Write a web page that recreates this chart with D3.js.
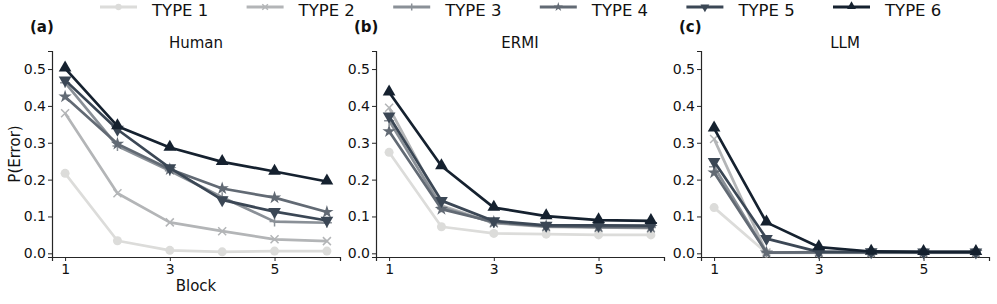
<!DOCTYPE html>
<html>
<head>
<meta charset="utf-8">
<script src="https://cdn.jsdelivr.net/npm/d3@7"></script>
<style>
  body { margin: 0; background: #fff; }
  text { font-family: "DejaVu Sans", sans-serif; fill: #111; }
</style>
</head>
<body>
<svg id="chart" width="997" height="304"></svg>
<script>
// Data
var blocks = [1, 2, 3, 4, 5, 6];
var typeNames = ['TYPE 1', 'TYPE 2', 'TYPE 3', 'TYPE 4', 'TYPE 5', 'TYPE 6'];
var typeColors = ['#dcdcda', '#b3b5b7', '#8a9097', '#626a74', '#3b4755', '#15212f'];
var typeMarkers = ['circle', 'cross', 'plus', 'star', 'triDown', 'triUp'];

var human = [
  [0.217, 0.034, 0.008, 0.004, 0.006, 0.006],
  [0.380, 0.163, 0.084, 0.060, 0.038, 0.033],
  [0.463, 0.291, 0.224, 0.152, 0.086, 0.083],
  [0.425, 0.297, 0.228, 0.176, 0.151, 0.112],
  [0.470, 0.336, 0.232, 0.145, 0.113, 0.089],
  [0.502, 0.345, 0.287, 0.248, 0.222, 0.195]
];
var ermi = [
  [0.274, 0.072, 0.054, 0.052, 0.050, 0.050],
  [0.395, 0.130, 0.082, 0.072, 0.070, 0.068],
  [0.360, 0.125, 0.083, 0.073, 0.071, 0.070],
  [0.331, 0.120, 0.085, 0.074, 0.072, 0.071],
  [0.372, 0.143, 0.088, 0.076, 0.076, 0.075],
  [0.437, 0.237, 0.124, 0.101, 0.090, 0.088]
];
var llm = [
  [0.124, 0.001, 0.001, 0.001, 0.001, 0.001],
  [0.310, 0.002, 0.002, 0.002, 0.002, 0.002],
  [0.235, 0.002, 0.002, 0.002, 0.002, 0.002],
  [0.219, 0.002, 0.003, 0.003, 0.003, 0.003],
  [0.249, 0.040, 0.004, 0.004, 0.003, 0.003],
  [0.339, 0.084, 0.017, 0.005, 0.004, 0.004]
];
var panelTitles = ['Human', 'ERMI', 'LLM'];
var panelLetters = ['(a)', '(b)', '(c)'];
var panelData = [human, ermi, llm];
var yTicks = [0, 0.1, 0.2, 0.3, 0.4, 0.5];
var xTicks = [1, 3, 5];

var svg = d3.select('#chart');
var panelLeft = [52, 376, 701];
var panelWidth = 288;
var plotTop = 51, plotBottom = 257;

var yScale = d3.scaleLinear().domain([-0.01, 0.549]).range([plotBottom, plotTop]);

// marker drawing
function addMarker(g, kind, color, cx, cy, s) {
  s = s || 1;
  if (kind === 'circle') {
    g.append('circle').attr('cx', cx).attr('cy', cy).attr('r', 4.5 * s).attr('fill', color);
  } else if (kind === 'cross') {
    var r = 4 * s;
    g.append('path')
      .attr('d', 'M' + (cx - r) + ',' + (cy - r) + 'L' + (cx + r) + ',' + (cy + r) +
                 'M' + (cx - r) + ',' + (cy + r) + 'L' + (cx + r) + ',' + (cy - r))
      .attr('stroke', color).attr('stroke-width', 1.5).attr('fill', 'none');
  } else if (kind === 'plus') {
    var p = 5 * s;
    g.append('path')
      .attr('d', 'M' + (cx - p) + ',' + cy + 'L' + (cx + p) + ',' + cy +
                 'M' + cx + ',' + (cy - p) + 'L' + cx + ',' + (cy + p))
      .attr('stroke', color).attr('stroke-width', 1.5).attr('fill', 'none');
  } else if (kind === 'star') {
    g.append('path')
      .attr('d', d3.symbol(d3.symbolStar, 55 * s * s)())
      .attr('transform', 'translate(' + cx + ',' + cy + ')')
      .attr('fill', color);
  } else if (kind === 'triDown') {
    g.append('path')
      .attr('d', d3.symbol(d3.symbolTriangle, 70 * s * s)())
      .attr('transform', 'translate(' + cx + ',' + cy + ') rotate(180)')
      .attr('fill', color);
  } else if (kind === 'triUp') {
    g.append('path')
      .attr('d', d3.symbol(d3.symbolTriangle, 70 * s * s)())
      .attr('transform', 'translate(' + cx + ',' + (cy - 0.5) + ')')
      .attr('fill', color);
  }
}

panelData.forEach(function (data, p) {
  var x0 = panelLeft[p];
  var xScale = d3.scaleLinear().domain([0.75, 6.25]).range([x0, x0 + panelWidth]);

  var plot = svg.append('g');

  // axes
  var yAxis = d3.axisLeft(yScale).tickValues(yTicks).tickFormat(d3.format('.1f')).tickSizeOuter(0).tickSize(4);
  var xAxis = d3.axisBottom(xScale).tickValues(xTicks).tickFormat(d3.format('d')).tickSizeOuter(0).tickSize(4);

  var ya = plot.append('g').attr('transform', 'translate(' + x0 + ',0)').call(yAxis);
  var xa = plot.append('g').attr('transform', 'translate(0,' + plotBottom + ')').call(xAxis);
  [ya, xa].forEach(function (a) {
    a.attr('font-size', 14).attr('font-family', '"DejaVu Sans", sans-serif');
    a.select('.domain').attr('stroke', '#262626').attr('stroke-width', 1.2);
    a.selectAll('.tick line').attr('stroke', '#262626').attr('stroke-width', 1);
    a.selectAll('.tick text').attr('fill', '#111');
  });
  ya.selectAll('.tick text').attr('x', -6);
  xa.selectAll('.tick text').attr('y', 7);

  // title and letter
  svg.append('text')
    .attr('x', x0 + panelWidth / 2).attr('y', 48)
    .attr('text-anchor', 'middle').attr('font-size', 15)
    .text(panelTitles[p]);
  svg.append('text')
    .attr('x', x0 - 22).attr('y', 32)
    .attr('font-size', 15).attr('font-weight', 'bold')
    .text(panelLetters[p]);

  var line = d3.line()
    .x(function (d, i) { return xScale(blocks[i]); })
    .y(function (d) { return yScale(d); });

  data.forEach(function (series, t) {
    var g = plot.append('g');
    g.append('path')
      .datum(series)
      .attr('d', line)
      .attr('fill', 'none')
      .attr('stroke', typeColors[t])
      .attr('stroke-width', 2.7)
      .attr('stroke-linejoin', 'round');
    series.forEach(function (v, i) {
      addMarker(g, typeMarkers[t], typeColors[t], xScale(blocks[i]), yScale(v));
    });
  });

  if (p === 0) {
    svg.append('text')
      .attr('x', 196).attr('y', 291)
      .attr('text-anchor', 'middle').attr('font-size', 15)
      .text('Block');
    svg.append('text')
      .attr('transform', 'translate(20,' + ((plotTop + plotBottom) / 2) + ') rotate(-90)')
      .attr('text-anchor', 'middle').attr('font-size', 15)
      .text('P(Error)');
  }
});

// Legend
var legend = svg.append('g');
typeNames.forEach(function (name, t) {
  var lx = 100 + t * 146.6;
  legend.append('line')
    .attr('x1', lx).attr('x2', lx + 37)
    .attr('y1', 7).attr('y2', 7)
    .attr('stroke', typeColors[t]).attr('stroke-width', 3);
  addMarker(legend, typeMarkers[t], typeColors[t], lx + 18.5, 7, 0.7);
  legend.append('text')
    .attr('x', lx + 52).attr('y', 15.5)
    .attr('font-size', 16.5)
    .text(name);
});
</script>
</body>
</html>
